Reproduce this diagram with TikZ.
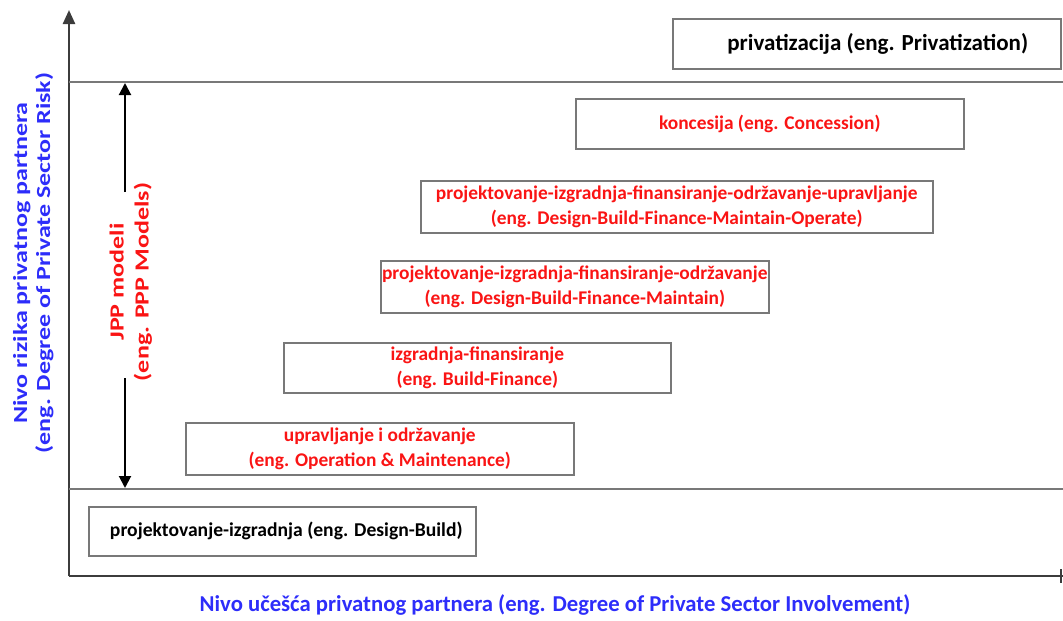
\documentclass[tikz,border=0pt]{standalone}
\usepackage{fontspec}
\setmainfont{Carlito}
\usetikzlibrary{arrows.meta}
\definecolor{axgray}{RGB}{60,60,60}
\definecolor{boxgray}{RGB}{120,120,120}
\definecolor{lblue}{RGB}{45,45,250}
\definecolor{lred}{RGB}{250,20,20}
\tikzset{
  modelbox/.style={draw=boxgray, line width=1.6pt, anchor=north west, inner sep=0pt, align=center, font=\bfseries\fontsize{19.4}{25}\selectfont},
  axisline/.style={draw=axgray, line width=2.4pt},
  sepline/.style={draw=boxgray, line width=1.6pt},
  bigarrow/.style={draw=black, line width=2pt},
}
\begin{document}
\begin{tikzpicture}[x=1pt,y=-1pt]
\useasboundingbox (0,0) rectangle (1063,621);
% axes
\coordinate (O) at (69,576);
\coordinate (Ytip) at (69,10);
\coordinate (Xtip) at (1063,576);
\draw[axisline, -{Triangle[length=14pt,width=12pt]}] (O) -- (Ytip);
\draw[axisline] (O) -- (Xtip);
\coordinate (Xend) at (1061,569);
\coordinate (Xend2) at (1061,583);
\draw[axisline, line width=2pt] (Xend) -- (Xend2);
% separator lines
\coordinate (S1a) at (69,82);
\coordinate (S1b) at (1063,82);
\coordinate (S2a) at (69,489);
\coordinate (S2b) at (1063,489);
\draw[sepline] (S1a) -- (S1b);
\draw[sepline] (S2a) -- (S2b);
% JPP arrow and label
\node[lred, rotate=90, inner sep=0pt, font=\bfseries\fontsize{20}{25}\selectfont] (jpp) at (131,282) {\scalebox{1.3}[1]{\begin{tabular}{@{}c@{}}JPP modeli\\(eng. PPP Models)\end{tabular}}};
\coordinate (Atop) at (125,83);
\coordinate (Abot) at (125,488);
\coordinate (Gtop) at (125,192);
\coordinate (Gbot) at (125,378);
\draw[bigarrow, -{Triangle[length=12pt,width=12pt]}] (Gtop) -- (Atop);
\draw[bigarrow, -{Triangle[length=12pt,width=12pt]}] (Gbot) -- (Abot);
% boxes
\node[modelbox, minimum width=388pt, minimum height=50pt, font=\bfseries\fontsize{23}{26}\selectfont] (priv) at (672,18) {\hspace*{22pt}privatizacija (eng. Privatization)};
\node[modelbox, text=lred, minimum width=388pt, minimum height=50pt] (konc) at (575,98) {koncesija (eng. Concession)};
\node[modelbox, text=lred, minimum width=512pt, minimum height=52pt] (dbfmo) at (420,180) {projektovanje-izgradnja-finansiranje-održavanje-upravljanje\\(eng. Design-Build-Finance-Maintain-Operate)};
\node[modelbox, text=lred, minimum width=388pt, minimum height=52pt] (dbfm) at (380,260) {projektovanje-izgradnja-finansiranje-održavanje\\(eng. Design-Build-Finance-Maintain)};
\node[modelbox, text=lred, minimum width=387pt, minimum height=50pt] (bf) at (283,342) {izgradnja-finansiranje\\(eng. Build-Finance)};
\node[modelbox, text=lred, minimum width=388pt, minimum height=52pt] (om) at (185,422) {upravljanje i održavanje\\(eng. Operation \& Maintenance)};
\node[modelbox, minimum width=387pt, minimum height=49pt, font=\bfseries\fontsize{19.6}{22}\selectfont] (db) at (88,506) {\hspace*{8pt}projektovanje-izgradnja (eng. Design-Build)};
% axis labels
\node[lblue, rotate=90, inner sep=0pt, font=\bfseries\fontsize{20}{23}\selectfont] (ylab) at (34,263) {\scalebox{1.3}[1]{\begin{tabular}{@{}c@{}}Nivo rizika privatnog partnera\\(eng. Degree of Private Sector Risk)\end{tabular}}};
\node[lblue, font=\bfseries\fontsize{22.7}{24}\selectfont] (xlab) at (555,605) {Nivo učešća privatnog partnera (eng. Degree of Private Sector Involvement)};
\end{tikzpicture}
\end{document}
